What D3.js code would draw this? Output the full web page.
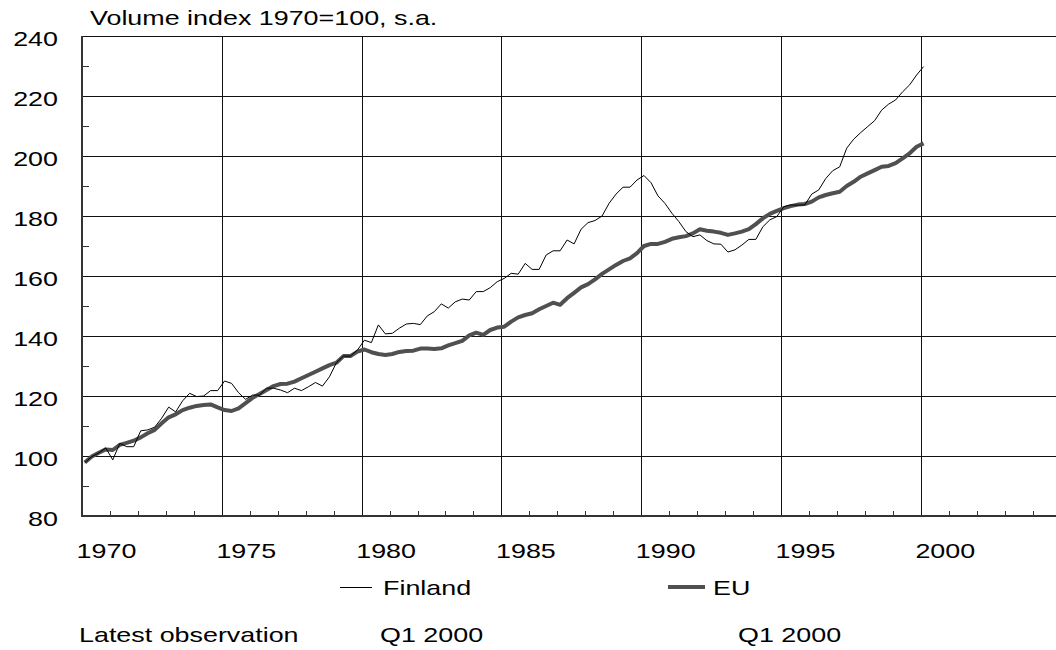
<!DOCTYPE html>
<html>
<head>
<meta charset="utf-8">
<script src="https://cdn.jsdelivr.net/npm/d3@7"></script>
<style>
  body { margin: 0; background: #fff; }
  text { font-family: "Liberation Sans", Arial, sans-serif; font-size: 21px; fill: #000; }
</style>
</head>
<body>
<div id="chart"></div>
<script>
// quarterly series, 1970Q1 .. 2000Q1
const startYear = 1970;
const finland = [97.8, 99.8, 101, 102.7, 98.7, 104.2, 103.1, 103.1, 108.4, 108.7,
  109.6, 112.6, 116.3, 114.7, 118.4, 120.9, 119.8, 120, 121.8, 121.8,
  125, 124.2, 121.1, 118.9, 120.3, 120.3, 122.6, 122.6, 122, 121.1,
  122.6, 121.8, 123.1, 124.5, 123.3, 126.4, 131.1, 133.3, 133.3, 135.3,
  138.6, 137.8, 143.7, 140.7, 140.9, 142.6, 144, 144.2, 143.8, 146.7,
  148.1, 150.7, 149.3, 151.4, 152.3, 152, 154.8, 154.8, 156.1, 158.1,
  159.2, 160.9, 160.6, 164.2, 162.2, 162.2, 167, 168.4, 168.4, 172,
  170.7, 175.6, 177.8, 178.5, 180, 184.2, 187.3, 189.6, 189.6, 192,
  193.5, 191.1, 186.7, 184.2, 180.9, 178.1, 174.8, 173.1, 173.7, 171.8,
  170.7, 170.6, 168, 168.7, 170.3, 172.2, 172.2, 176.4, 178.7, 179.8,
  183.1, 183.7, 183.6, 183.7, 187.3, 188.7, 192.5, 195.1, 196.4, 202.6,
  205.6, 207.8, 209.8, 211.8, 215.3, 217.3, 218.7, 221.4, 223.7, 227,
  229.8];
const eu = [97.8, 99.8, 101.1, 102.2, 102, 103.7, 104.4, 105.1, 106.2, 107.6,
  108.7, 110.9, 112.9, 113.9, 115.3, 116.1, 116.7, 117, 117.2, 116.2,
  115.3, 115, 115.9, 117.6, 119.4, 120.7, 122, 123.3, 124, 124.1,
  124.8, 125.9, 127, 128.1, 129.2, 130.3, 131.1, 133.3, 133.3, 134.8,
  135.5, 134.6, 134, 133.7, 134, 134.7, 135, 135.1, 135.8, 135.8,
  135.7, 135.9, 136.9, 137.6, 138.4, 140.2, 141.1, 140.4, 142, 142.8,
  143.1, 144.8, 146.2, 147, 147.6, 148.9, 150, 151.1, 150.4, 152.6,
  154.4, 156.2, 157.3, 158.9, 160.7, 162.2, 163.7, 165, 165.9, 167.6,
  170, 170.7, 170.7, 171.4, 172.4, 172.9, 173.3, 174.2, 175.6, 175.1,
  174.8, 174.4, 173.7, 174.2, 174.8, 175.6, 177.3, 179.2, 180.7, 181.7,
  182.6, 183.3, 183.8, 184, 184.8, 186.2, 187, 187.6, 188.1, 190,
  191.4, 193.1, 194.2, 195.3, 196.4, 196.7, 197.6, 199.2, 200.9, 203.1,
  204.2];

const yTicks = [80, 100, 120, 140, 160, 180, 200, 220, 240];
const yMinor = [90, 110, 130, 150, 170, 190, 210, 230];
const xTicks = [1970, 1975, 1980, 1985, 1990, 1995, 2000];
const title = "Volume index 1970=100, s.a.";
const legendNames = ["Finland", "EU"];
const latestLabel = "Latest observation";
const latest = ["Q1 2000", "Q1 2000"];

const svgWidth = 1056, svgHeight = 650;
const margin = {left: 82, top: 36, bottom: 516};
const sx = 1.28;   // the source text is stretched horizontally

const svg = d3.select("#chart").append("svg")
  .attr("width", svgWidth)
  .attr("height", svgHeight);

const xscale = d3.scaleLinear().domain([1970, 2005]).range([margin.left, margin.left + 35 * 27.96]);
const yscale = d3.scaleLinear().domain([80, 240]).range([margin.bottom, margin.top]);

function label(x, y, str, anchor){
  svg.append("text")
    .attr("transform", "translate(" + x + "," + y + ") scale(" + sx + ",1)")
    .attr("text-anchor", anchor || "start")
    .text(str);
}

// grid
svg.append("g").selectAll("line")
  .data(yTicks.filter(d => d > 80))
  .enter().append("line")
  .attr("x1", margin.left).attr("x2", svgWidth)
  .attr("y1", d => Math.round(yscale(d)) + 0.5)
  .attr("y2", d => Math.round(yscale(d)) + 0.5)
  .attr("stroke", "#111").attr("stroke-width", 1);

svg.append("g").selectAll("line")
  .data(xTicks.filter(d => d > 1970))
  .enter().append("line")
  .attr("x1", d => Math.round(xscale(d)) + 0.5)
  .attr("x2", d => Math.round(xscale(d)) + 0.5)
  .attr("y1", margin.top).attr("y2", margin.bottom)
  .attr("stroke", "#111").attr("stroke-width", 1);

// minor ticks
svg.append("g").selectAll("line")
  .data(yMinor)
  .enter().append("line")
  .attr("x1", margin.left).attr("x2", margin.left + 7)
  .attr("y1", d => Math.round(yscale(d)) + 0.5)
  .attr("y2", d => Math.round(yscale(d)) + 0.5)
  .attr("stroke", "#333").attr("stroke-width", 1);

svg.append("g").selectAll("line")
  .data(d3.range(1971, 2005).filter(d => d % 5 != 0))
  .enter().append("line")
  .attr("x1", d => Math.round(xscale(d)) + 0.5)
  .attr("x2", d => Math.round(xscale(d)) + 0.5)
  .attr("y1", margin.bottom).attr("y2", margin.bottom - 5)
  .attr("stroke", "#333").attr("stroke-width", 1);

// axes
svg.append("line")
  .attr("x1", margin.left).attr("x2", margin.left)
  .attr("y1", margin.top).attr("y2", margin.bottom + 1)
  .attr("stroke", "#333").attr("stroke-width", 2);
svg.append("line")
  .attr("x1", margin.left - 1).attr("x2", svgWidth)
  .attr("y1", margin.bottom).attr("y2", margin.bottom)
  .attr("stroke", "#333").attr("stroke-width", 2);

// lines
const line = d3.line()
  .x((d, i) => xscale(startYear + i / 4 + 0.1))
  .y(d => yscale(d));

svg.append("path").datum(eu)
  .attr("d", line)
  .attr("fill", "none")
  .attr("stroke", "#505050")
  .attr("stroke-width", 4)
  .attr("stroke-linejoin", "round");

svg.append("path").datum(finland)
  .attr("d", line)
  .attr("fill", "none")
  .attr("stroke", "#000")
  .attr("stroke-width", 1);

// labels
label(90, 25, title);
yTicks.forEach(d => label(58, yscale(d) + 9.5, d, "end"));
xTicks.forEach(d => label(xscale(d) + 24.5, 558, d, "middle"));

// legend
svg.append("line").attr("x1", 340).attr("x2", 372).attr("y1", 587.5).attr("y2", 587.5)
  .attr("stroke", "#000").attr("stroke-width", 1);
label(383, 595, legendNames[0]);
svg.append("line").attr("x1", 668).attr("x2", 705).attr("y1", 587).attr("y2", 587)
  .attr("stroke", "#505050").attr("stroke-width", 4);
label(713, 595, legendNames[1]);

label(79, 642, latestLabel);
label(380, 642, latest[0]);
label(738, 642, latest[1]);
</script>
</body>
</html>
